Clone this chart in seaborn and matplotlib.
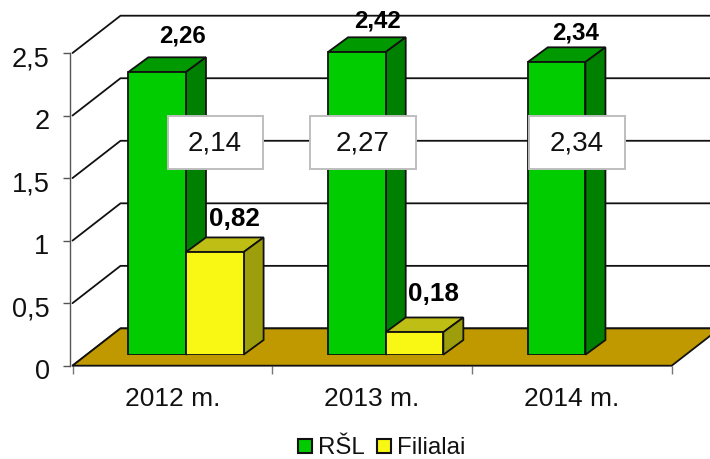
#!/usr/bin/env python3
"""3D-looking grouped bars: RSL vs Filialai, 2012-2014."""

import matplotlib
matplotlib.use("Agg")
import matplotlib.pyplot as plt
import numpy as np
import pandas as pd
import seaborn as sns
from matplotlib.patches import Patch, Polygon, Rectangle
from matplotlib.transforms import ScaledTranslation

# ---------------------------------------------------------------------------
# DATA
# ---------------------------------------------------------------------------
YEARS = ["2012 m.", "2013 m.", "2014 m."]
SERIES = ["RŠL", "Filialai"]
RSL_VALUES = [2.26, 2.42, 2.34]
FILIALAI_VALUES = [0.82, 0.18, np.nan]
RSL_LABELS = ["2,26", "2,42", "2,34"]
FILIALAI_LABELS = ["0,82", "0,18", ""]
BOX_LABELS = ["2,14", "2,27", "2,34"]
Y_TICKS = [0, 0.5, 1, 1.5, 2, 2.5]
Y_TICK_LABELS = ["0", "0,5", "1", "1,5", "2", "2,5"]

# ---------------------------------------------------------------------------
# LAYOUT (pixels of the 710x459 figure)
# ---------------------------------------------------------------------------
W, H = 710, 459
PLOT_LEFT, PLOT_RIGHT = 72.5, 671.7
PLOT_BOTTOM, PLOT_TOP = 365.7, 53.0
BAR_SHIFT = (13.6, 11.0)
PX_X = (PLOT_RIGHT - PLOT_LEFT) / 3
PX_Y = (PLOT_BOTTOM - PLOT_TOP) / 2.5
WALL_DEPTH = (48 / PX_X, 37.3 / PX_Y)
BAR_DEPTH = (20 / PX_X, 14.7 / PX_Y)

RSL_OFFSETS = [(25.5, 36), (20.5, 31.5), (19, 29)]
FILIALAI_OFFSETS = [(20, 33), (19, 38), (0, 0)]
BOX_SPANS = [(167.5, 262.5), (310, 416), (529, 625)]
BOX_TOP, BOX_BOTTOM = 116, 169

COLORS = {
    "RŠL": ("#00CC00", "#009900", "#008000"),
    "Filialai": ("#F8F814", "#BEBE14", "#9E9E0C"),
}
FLOOR = "#C09900"
INK = "#111111"

sns.set_theme(style="white")
plt.rcParams["font.family"] = ["Liberation Sans", "DejaVu Sans"]

df = pd.DataFrame({
    "year": YEARS * 2,
    "series": [SERIES[0]] * 3 + [SERIES[1]] * 3,
    "value": RSL_VALUES + FILIALAI_VALUES,
})

fig = plt.figure(figsize=(W / 100, H / 100), dpi=100)


def axes_at(dx=0.0, dy=0.0):
    return fig.add_axes([
        (PLOT_LEFT + dx) / W,
        (H - PLOT_BOTTOM + dy) / H,
        (PLOT_RIGHT - PLOT_LEFT) / W,
        (PLOT_BOTTOM - PLOT_TOP) / H,
    ])


# back walls, floor and axes
ax = axes_at()
ax.set_xlim(-0.5, 2.5)
ax.set_ylim(0, 2.5)
ax.patch.set_visible(False)
for side in ["top", "right", "bottom"]:
    ax.spines[side].set_visible(False)
ax.spines["left"].set_position(("outward", 1.5))
ax.spines["left"].set_color("#555555")
ax.spines["left"].set_linewidth(1.0)

wx, wy = WALL_DEPTH
ax.add_patch(Polygon(
    [(-0.5, 0), (-0.5 + wx, wy), (2.5 + wx, wy), (2.5, 0)],
    closed=True, facecolor=FLOOR, edgecolor=INK, linewidth=1.3, clip_on=False, zorder=2,
))
for t in Y_TICKS:
    ax.plot([-0.5, -0.5 + wx, 2.5 + wx], [t, t + wy, t + wy],
            color=INK, linewidth=1.3, clip_on=False, zorder=1)

ax.set_yticks(Y_TICKS, Y_TICK_LABELS)
ax.set_xticks([-0.5, 0.5, 1.5, 2.5], [""] * 4)
ax.set_xticks([0, 1, 2], YEARS, minor=True)
ax.tick_params(axis="y", length=5, width=1, color="#555555", labelsize=19.5, pad=10, labelcolor=INK, left=True)
ax.tick_params(axis="x", which="major", length=6, width=1, color="#777777", bottom=True)
ax.tick_params(axis="x", which="minor", length=0, labelsize=19, pad=15, labelcolor=INK)

# the y labels sit slightly under their ticks in the reference
for label in ax.get_yticklabels():
    label.set_transform(label.get_transform() + ScaledTranslation(0, -3 / 100, fig.dpi_scale_trans))

# bars sit a little inside the floor, so they get their own shifted axes
bar_ax = axes_at(*BAR_SHIFT)
sns.barplot(
    data=df, x="year", y="value", hue="series", order=YEARS, hue_order=SERIES,
    palette={s: COLORS[s][0] for s in SERIES}, width=0.577, gap=0,
    edgecolor=INK, linewidth=1.3, legend=False, ax=bar_ax, errorbar=None, saturation=1,
)
bar_ax.set_xlim(-0.5, 2.5)
bar_ax.set_ylim(0, 2.5)
bar_ax.set_axis_off()

bx, by = BAR_DEPTH
for idx, (container, name) in enumerate(zip(bar_ax.containers, SERIES)):
    front, top, side = COLORS[name]
    for bar in container:
        h = bar.get_height()
        if not np.isfinite(h) or h <= 0:
            continue
        x0, x1 = bar.get_x(), bar.get_x() + bar.get_width()
        bar.set_zorder(3 + 2 * idx)
        bar_ax.add_patch(Polygon(
            [(x0, h), (x0 + bx, h + by), (x1 + bx, h + by), (x1, h)],
            closed=True, facecolor=top, edgecolor=INK, linewidth=1.3, clip_on=False, zorder=2 + 2 * idx,
        ))
        bar_ax.add_patch(Polygon(
            [(x1, 0), (x1 + bx, by), (x1 + bx, h + by), (x1, h)],
            closed=True, facecolor=side, edgecolor=INK, linewidth=1.3, clip_on=False, zorder=2 + 2 * idx,
        ))

# bold value labels
all_labels = [(RSL_VALUES, RSL_LABELS, RSL_OFFSETS, 17.3), (FILIALAI_VALUES, FILIALAI_LABELS, FILIALAI_OFFSETS, 18.8)]
for container, (vals, labels, offsets, size) in zip(bar_ax.containers, all_labels):
    for bar, val, label, (ox, oy) in zip(container, vals, labels, offsets):
        if not label:
            continue
        bar_ax.annotate(
            label, (bar.get_x() + bar.get_width() / 2, val),
            xytext=(ox * 0.72, oy * 0.72), textcoords="offset points",
            ha="center", va="center", fontsize=size, fontweight="bold",
            color="black", annotation_clip=False, zorder=20,
        )

# white comment boxes
for (x0, x1), label in zip(BOX_SPANS, BOX_LABELS):
    fig.add_artist(Rectangle(
        (x0 / W, 1 - BOX_BOTTOM / H), (x1 - x0) / W, (BOX_BOTTOM - BOX_TOP) / H,
        transform=fig.transFigure, facecolor="white", edgecolor="#BEBEBE", linewidth=1.4, zorder=10,
    ))
    fig.text((x0 + x1) / 2 / W, 1 - (BOX_TOP + BOX_BOTTOM + 2) / 2 / H, label,
             ha="center", va="center", fontsize=20, color=INK, zorder=11)

handles = [Patch(facecolor=COLORS[s][0], edgecolor=INK, linewidth=1.5) for s in SERIES]
fig.legend(
    handles, SERIES, loc="center", bbox_to_anchor=(382 / W, 1 - 448.5 / H), ncol=2, frameon=False,
    fontsize=17.3, handlelength=0.56, handleheight=0.56, handletextpad=0.27,
    columnspacing=0.52, labelcolor=INK, borderpad=0, borderaxespad=0,
)

fig.savefig("out.png", dpi=100)
